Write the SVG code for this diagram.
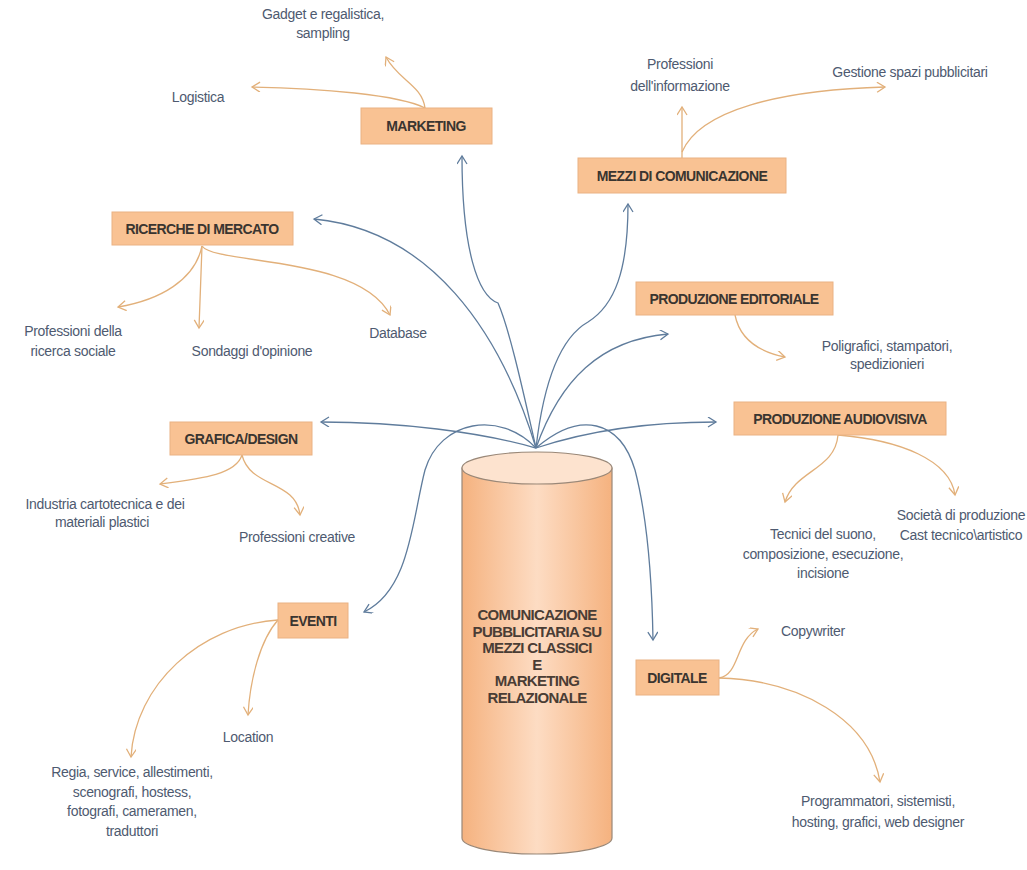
<svg xmlns="http://www.w3.org/2000/svg" width="1027" height="870" viewBox="0 0 1027 870">
<style>
.box{fill:#F9C293;stroke:#EAB283;stroke-width:1}
.bt{font-family:"Liberation Sans",Arial,sans-serif;font-size:14px;font-weight:bold;fill:#3a3530;text-anchor:middle;letter-spacing:-0.6px}
.lb{font-family:"Liberation Sans",Arial,sans-serif;font-size:14px;fill:#4e5a70;text-anchor:middle;letter-spacing:-0.3px}
.ct{font-family:"Liberation Sans",Arial,sans-serif;font-size:15px;font-weight:bold;fill:#4a3d35;text-anchor:middle;letter-spacing:-0.7px}
.blue{fill:none;stroke:#5f7c9c;stroke-width:1.3;marker-end:url(#ab)}
.or{fill:none;stroke:#E2B07A;stroke-width:1.3;marker-end:url(#ao)}
</style>
<defs>
<marker id="ab" markerUnits="userSpaceOnUse" markerWidth="14" markerHeight="14" refX="9" refY="5" orient="auto">
<path d="M1,0 L9,5 L1,10" fill="none" stroke="#5f7c9c" stroke-width="1.3"/>
</marker>
<marker id="ao" markerUnits="userSpaceOnUse" markerWidth="14" markerHeight="14" refX="9" refY="5" orient="auto">
<path d="M1,0 L9,5 L1,10" fill="none" stroke="#E2B07A" stroke-width="1.3"/>
</marker>
<linearGradient id="cyl" x1="0" y1="0" x2="1" y2="0">
<stop offset="0" stop-color="#F5B27F"/>
<stop offset="0.5" stop-color="#FDDCC3"/>
<stop offset="1" stop-color="#F5B27F"/>
</linearGradient>
</defs>
<rect width="1027" height="870" fill="#ffffff"/>

<g id="connectors">
<path class="blue" d="M536,448 C525,400 510,330 498,303 C478,296 462,250 462,156"/>
<path class="blue" d="M536,448 C500,330 430,230 314,219"/>
<path class="blue" d="M536,448 C545,370 565,335 588,322 C615,305 628,270 628,204"/>
<path class="blue" d="M536,448 C560,380 600,340 668,334"/>
<path class="blue" d="M536,448 C480,432 400,422 321,422"/>
<path class="blue" d="M536,448 C590,430 650,422 716,422"/>
<path class="blue" d="M536,448 C500,410 440,420 425,470 C412,520 410,590 364,612"/>
<path class="blue" d="M536,448 C580,410 620,420 635,470 C648,520 652,580 653,640"/>

<path class="or" d="M425,108 C422,85 398,80 386,57"/>
<path class="or" d="M425,108 C400,95 320,88 252,87"/>
<path class="or" d="M682,158 L682,107"/>
<path class="or" d="M682,152 C700,110 780,90 885,87"/>
<path class="or" d="M202,246 C195,280 160,300 118,307"/>
<path class="or" d="M202,246 C201,275 200,300 199,328"/>
<path class="or" d="M202,246 C215,265 360,255 390,315"/>
<path class="or" d="M735,315 C740,340 760,352 785,357"/>
<path class="or" d="M838,435 C835,470 795,470 785,502"/>
<path class="or" d="M838,435 C900,440 950,460 955,495"/>
<path class="or" d="M242,455 C236,474 205,478 160,484"/>
<path class="or" d="M242,455 C250,488 296,480 300,515"/>
<path class="or" d="M278,620 C260,640 250,680 248,715"/>
<path class="or" d="M278,620 C200,625 135,685 131,757"/>
<path class="or" d="M719,678 C740,675 735,640 758,629"/>
<path class="or" d="M719,678 C800,680 870,720 880,782"/>
</g>

<g id="center">
<path d="M462,468 L462,838 A75,16 0 0 0 612,838 L612,468 Z" fill="url(#cyl)" stroke="#9a8878" stroke-width="1.2"/>
<ellipse cx="537" cy="468" rx="75" ry="16" fill="#FDE3CF" stroke="#9a8878" stroke-width="1.2"/>
<text class="ct" x="537" y="620">COMUNICAZIONE</text>
<text class="ct" x="537" y="636.5">PUBBLICITARIA SU</text>
<text class="ct" x="537" y="653">MEZZI CLASSICI</text>
<text class="ct" x="537" y="669.5">E</text>
<text class="ct" x="537" y="686">MARKETING</text>
<text class="ct" x="537" y="702.5">RELAZIONALE</text>
</g>

<g id="marketing">
<rect class="box" x="361" y="108" width="131" height="36"/>
<text class="bt" x="426" y="131">MARKETING</text>
</g>
<g id="mezzi">
<rect class="box" x="578" y="158" width="208" height="35"/>
<text class="bt" x="682" y="181">MEZZI DI COMUNICAZIONE</text>
</g>
<g id="ricerche">
<rect class="box" x="112" y="212" width="181" height="33"/>
<text class="bt" x="202" y="234">RICERCHE DI MERCATO</text>
</g>
<g id="editoriale">
<rect class="box" x="636" y="282" width="197" height="33"/>
<text class="bt" x="734" y="304">PRODUZIONE EDITORIALE</text>
</g>
<g id="audiovisiva">
<rect class="box" x="734" y="402" width="212" height="33"/>
<text class="bt" x="840" y="424">PRODUZIONE AUDIOVISIVA</text>
</g>
<g id="grafica">
<rect class="box" x="170" y="422" width="142" height="33"/>
<text class="bt" x="241" y="444">GRAFICA/DESIGN</text>
</g>
<g id="eventi">
<rect class="box" x="278" y="603" width="70" height="35"/>
<text class="bt" x="313" y="626">EVENTI</text>
</g>
<g id="digitale">
<rect class="box" x="636" y="660" width="83" height="35"/>
<text class="bt" x="677" y="683">DIGITALE</text>
</g>

<g id="leaf-gadget"><text class="lb" x="323" y="19">Gadget e regalistica,</text><text class="lb" x="323" y="38">sampling</text></g>
<g id="leaf-logistica"><text class="lb" x="198" y="102">Logistica</text></g>
<g id="leaf-informazione"><text class="lb" x="680" y="69">Professioni</text><text class="lb" x="680" y="91">dell'informazione</text></g>
<g id="leaf-gestione"><text class="lb" x="910" y="77">Gestione spazi pubblicitari</text></g>
<g id="leaf-ricerca"><text class="lb" x="73" y="336">Professioni della</text><text class="lb" x="73" y="356">ricerca sociale</text></g>
<g id="leaf-sondaggi"><text class="lb" x="252" y="356">Sondaggi d'opinione</text></g>
<g id="leaf-database"><text class="lb" x="398" y="338">Database</text></g>
<g id="leaf-poligrafici"><text class="lb" x="887" y="351">Poligrafici, stampatori,</text><text class="lb" x="887" y="369">spedizionieri</text></g>
<g id="leaf-tecnici"><text class="lb" x="823" y="539">Tecnici del suono,</text><text class="lb" x="823" y="559">composizione, esecuzione,</text><text class="lb" x="823" y="578">incisione</text></g>
<g id="leaf-societa"><text class="lb" x="961" y="520">Società di produzione</text><text class="lb" x="961" y="540">Cast tecnico\artistico</text></g>
<g id="leaf-industria"><text class="lb" x="105" y="509">Industria cartotecnica e dei</text><text class="lb" x="102" y="527">materiali plastici</text></g>
<g id="leaf-creative"><text class="lb" x="297" y="542">Professioni creative</text></g>
<g id="leaf-location"><text class="lb" x="248" y="742">Location</text></g>
<g id="leaf-regia"><text class="lb" x="132" y="777">Regia, service, allestimenti,</text><text class="lb" x="132" y="797">scenografi, hostess,</text><text class="lb" x="132" y="816">fotografi, cameramen,</text><text class="lb" x="132" y="836">traduttori</text></g>
<g id="leaf-copywriter"><text class="lb" x="813" y="636">Copywriter</text></g>
<g id="leaf-programmatori"><text class="lb" x="878" y="806">Programmatori, sistemisti,</text><text class="lb" x="878" y="827">hosting, grafici, web designer</text></g>
</svg>
